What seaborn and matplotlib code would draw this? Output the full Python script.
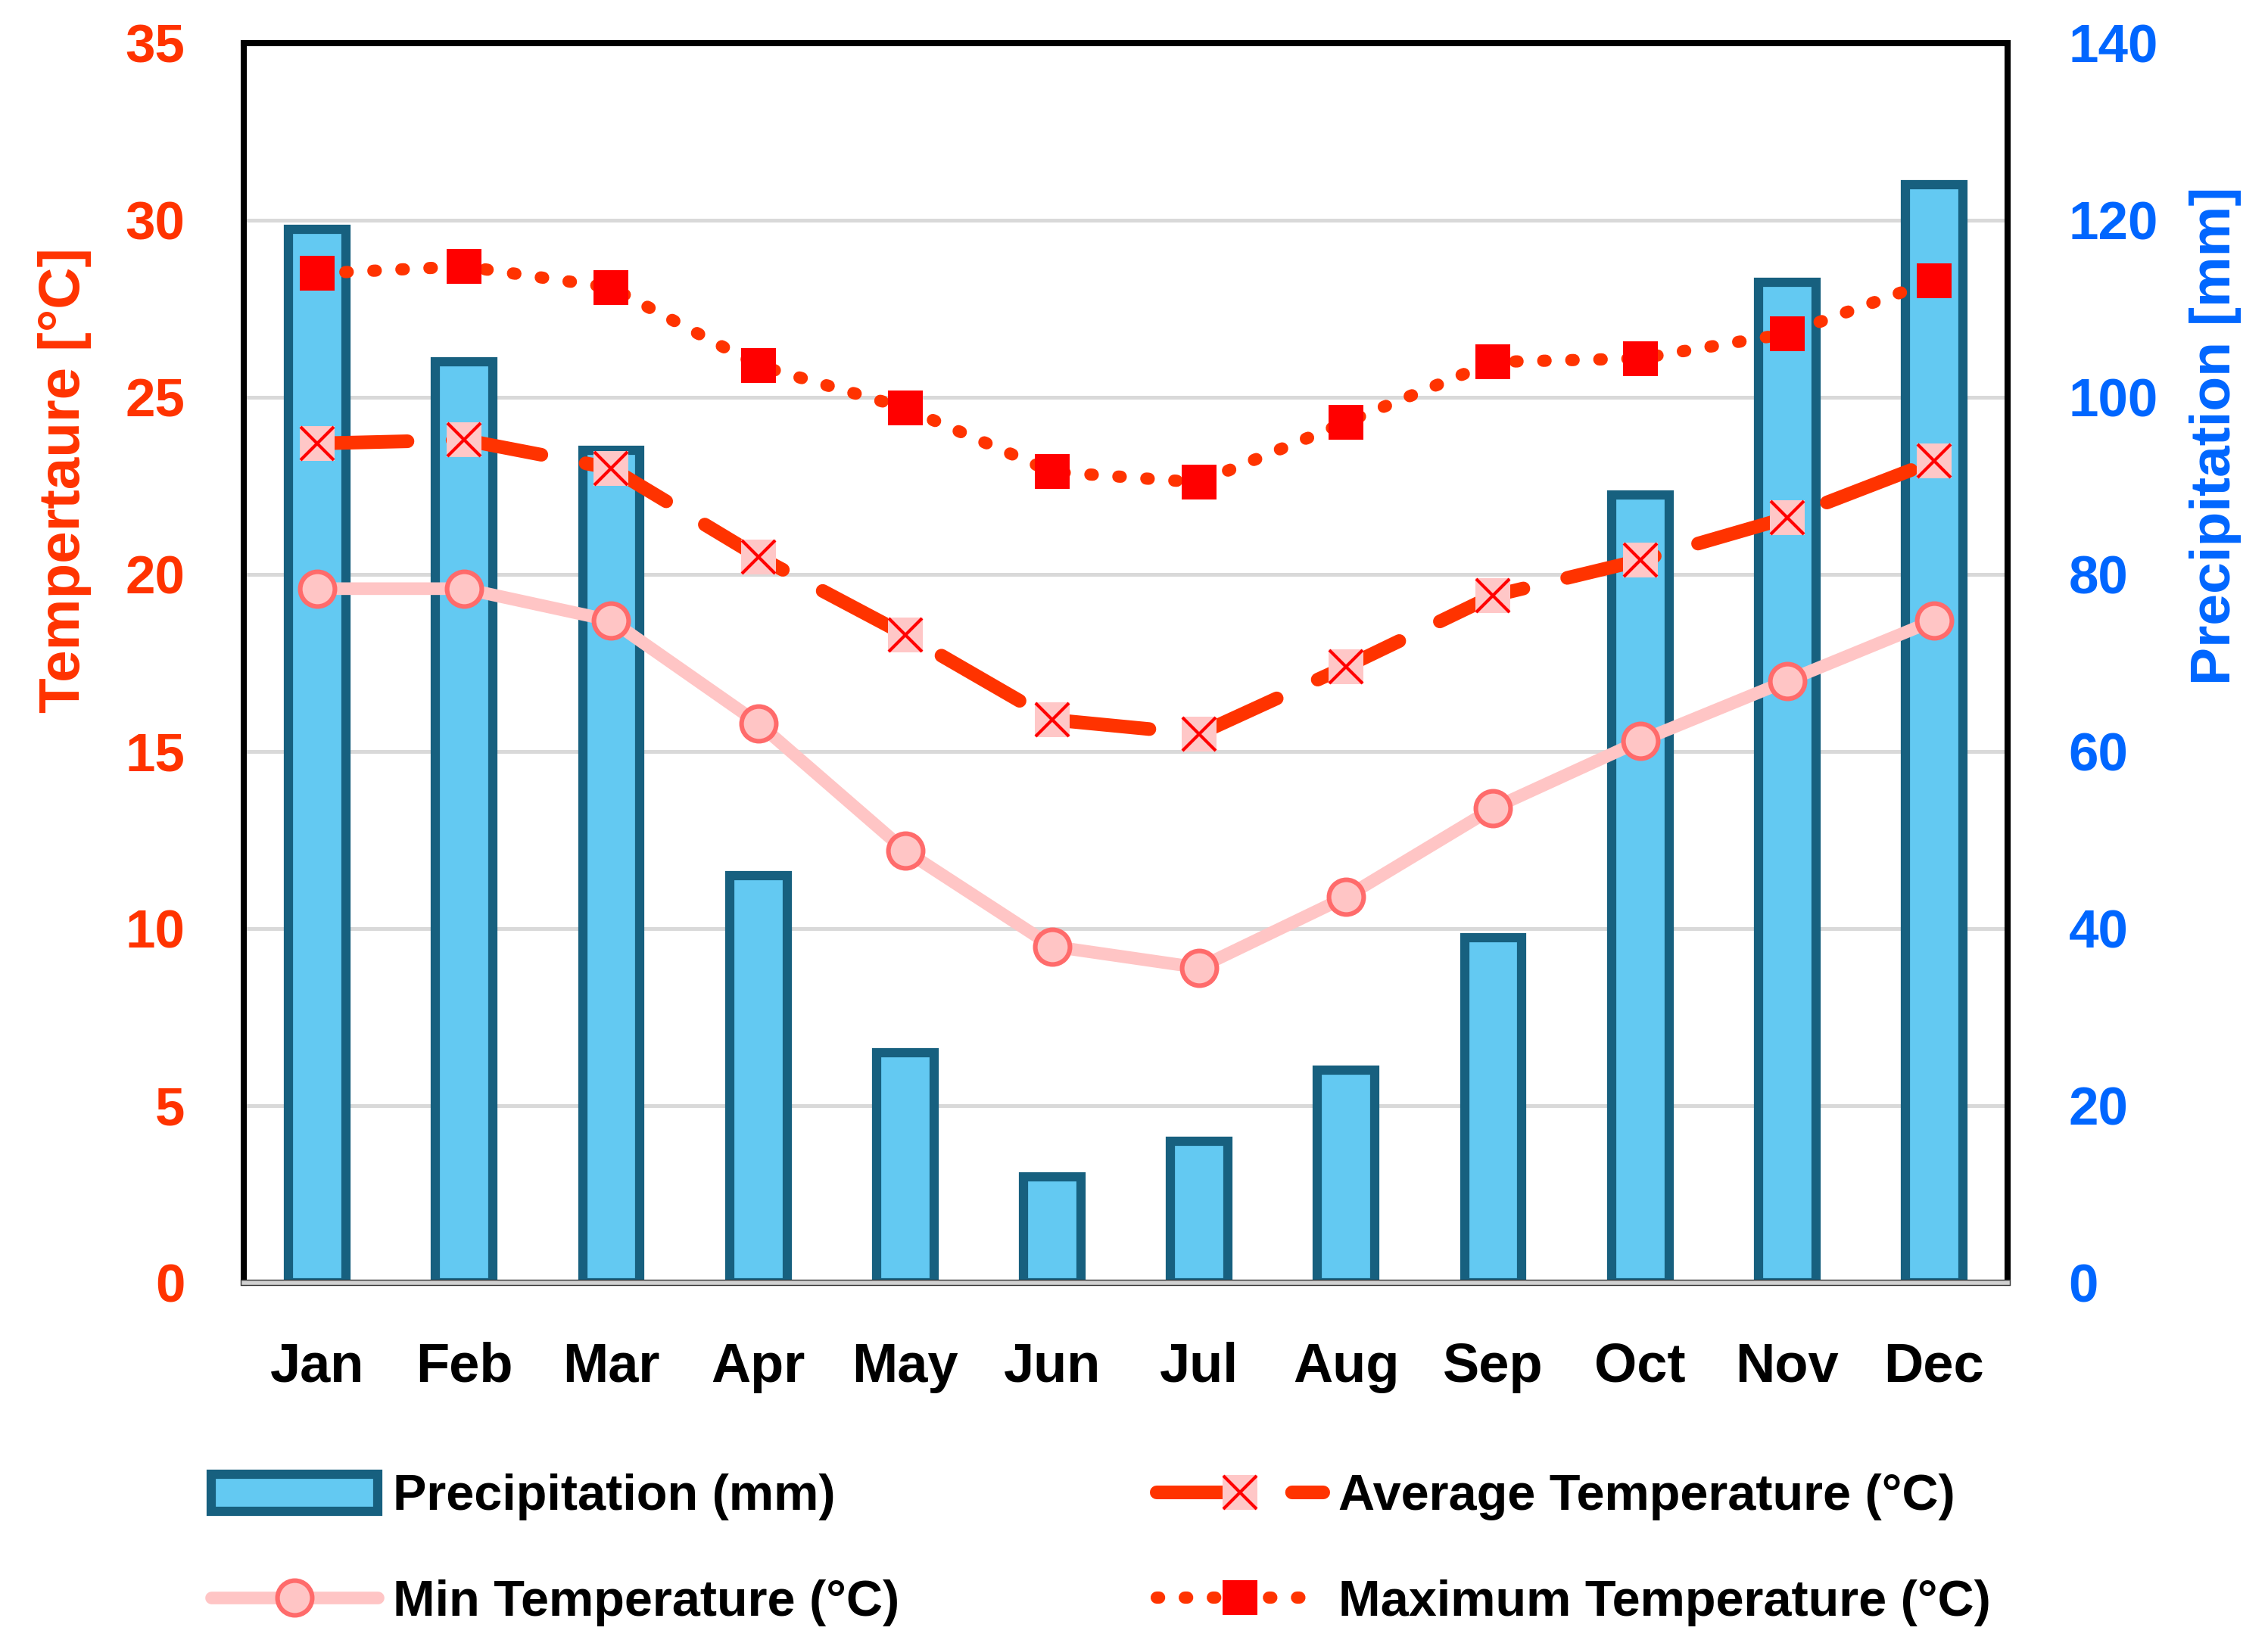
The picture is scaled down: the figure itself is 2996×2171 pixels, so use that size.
import numpy as np
import pandas as pd
import seaborn as sns
import matplotlib.pyplot as plt
import matplotlib.patheffects as pe
from matplotlib.lines import Line2D
from matplotlib.patches import Patch
from matplotlib.legend_handler import HandlerTuple

# values
months = ['Jan', 'Feb', 'Mar', 'Apr', 'May', 'Jun', 'Jul', 'Aug', 'Sep', 'Oct', 'Nov', 'Dec']
precip_mm = [119, 104, 94, 46, 26, 12, 16, 24, 39, 89, 113, 124]
avg_temp = [23.7, 23.8, 23.0, 20.5, 18.3, 15.9, 15.5, 17.4, 19.4, 20.4, 21.6, 23.2]
min_temp = [19.6, 19.6, 18.7, 15.8, 12.2, 9.5, 8.9, 10.9, 13.4, 15.3, 17.0, 18.7]
max_temp = [28.5, 28.7, 28.1, 25.9, 24.7, 22.9, 22.6, 24.3, 26.0, 26.1, 26.8, 28.3]

legend_labels = ['Precipitation (mm)', 'Min Temperature (°C)',
                 'Average Temperature (°C)', 'Maximum Temperature (°C)']

## colours
bar_face = '#63C9F2'
bar_edge = '#17607F'
avg_col = '#FF3300'
max_col = '#FF3300'
max_mark = '#FF0000'
min_line = '#FFC5C5'
min_edge = '#FF6B6B'
pink_sq = '#FFC7C7'
x_col = '#FF0000'

sns.set_theme(style='white')
plt.rcParams['font.family'] = ['Liberation Sans', 'DejaVu Sans']
plt.rcParams['font.weight'] = 'bold'
plt.rcParams['axes.labelweight'] = 'bold'

df = pd.DataFrame({'pos': np.arange(12), 'precip': precip_mm,
                   'avg': avg_temp, 'tmin': min_temp, 'tmax': max_temp})

fig = plt.figure(figsize=(14.98, 10.855), dpi=200)
ax = fig.add_axes([0.1075, 0.2192, 0.7777, 0.7545])
ax2 = ax.twinx()

## bars on the right axis, lines on the left one (kept on top)
ax.set_zorder(ax2.get_zorder() + 1)
ax.patch.set_visible(False)

sns.barplot(data=df, x='pos', y='precip', ax=ax2, color=bar_face, saturation=1,
            width=0.39, edgecolor=bar_edge, linewidth=4.4, zorder=2)

# min temperature
sns.lineplot(data=df, x='pos', y='tmin', ax=ax, color=min_line, linewidth=6,
             marker='o', markersize=16.5, markerfacecolor=min_line,
             markeredgecolor=min_edge, markeredgewidth=2.2, errorbar=None)

# average temperature: dashed line, pink squares with red crosses
sns.lineplot(data=df, x='pos', y='avg', ax=ax, color=avg_col, linewidth=6.5,
             marker='s', markersize=16.5, markerfacecolor=pink_sq,
             markeredgecolor=pink_sq, markeredgewidth=0, errorbar=None)
avg_line = ax.lines[-1]
avg_line.set_dashes((6.6, 3.3))
avg_line.set_dash_capstyle('round')
sns.lineplot(data=df, x='pos', y='avg', ax=ax, color=x_col, linestyle='none',
             marker='x', markersize=16, markeredgecolor=x_col,
             markeredgewidth=1.5, errorbar=None)

# max temperature: round dots
sns.lineplot(data=df, x='pos', y='tmax', ax=ax, color=max_col, linewidth=5.8,
             marker='s', markersize=16.5, markerfacecolor=max_mark,
             markeredgecolor=max_mark, markeredgewidth=0, errorbar=None)
max_line = ax.lines[-1]
max_line.set_dashes((0.2, 2.1))
max_line.set_dash_capstyle('round')

# axes, ticks
ax.set_ylim(0, 35)
ax.set_yticks(range(0, 36, 5))
ax2.set_ylim(0, 140)
ax2.set_yticks(range(0, 141, 20))
ax.set_xlim(-0.5, 11.5)
ax.set_xticks(range(12))
ax.set_xticklabels(months)
ax.set_xlabel('')
ax2.set_xlabel('')

ax.tick_params(axis='y', length=0, pad=28, labelsize=25.5, labelcolor='#FF3300')
ax2.tick_params(axis='y', length=0, pad=29, labelsize=25.5, labelcolor='#0066FF')
ax.tick_params(axis='x', length=0, pad=28, labelsize=26, labelcolor='black')

ax.grid(False)
ax2.grid(False)
ax2.yaxis.grid(True, color='#D9D9D9', linewidth=1.8)
ax2.set_axisbelow(True)

ax.set_ylabel('Tempertaure [°C]', fontsize=27.5, color='#FF3300', va='center',
              fontweight='bold')
ax.yaxis.set_label_coords(-0.1017, 0.6475)
ax2.set_ylabel('Precipitation [mm]', fontsize=27, color='#0066FF', va='center',
               rotation=90, fontweight='bold')
ax2.yaxis.set_label_coords(1.1176, 0.6836)

for s in ax2.spines.values():
    s.set_visible(False)
for s in ['left', 'top', 'right']:
    ax.spines[s].set_color('black')
    ax.spines[s].set_linewidth(2.9)
ax.spines['bottom'].set_color('#D0D0D0')
ax.spines['bottom'].set_linewidth(2.0)
ax.spines['bottom'].set_path_effects([pe.withStroke(linewidth=3.0, foreground='#333333')])

# legend
h_precip = Patch(facecolor=bar_face, edgecolor=bar_edge, linewidth=4.4)
h_min = Line2D([], [], color=min_line, linewidth=6, marker='o', markersize=16.5,
               markerfacecolor=min_line, markeredgecolor=min_edge, markeredgewidth=2.2)
h_avg = (Line2D([], [], color=avg_col, linewidth=6.5, dashes=(6.6, 3.3), dash_capstyle='round'),
         Line2D([], [], linestyle='none', marker='s', markersize=16.5,
                markerfacecolor=pink_sq, markeredgewidth=0),
         Line2D([], [], linestyle='none', marker='x', markersize=16,
                markeredgecolor=x_col, markeredgewidth=1.5))
h_max = Line2D([], [], color=max_col, linewidth=5.8, dashes=(0.2, 2.1), dash_capstyle='round',
               marker='s', markersize=16.5, markerfacecolor=max_mark, markeredgewidth=0)

fig.legend(handles=[h_precip, h_min, h_avg, h_max], labels=legend_labels,
           ncol=2, loc='upper left', bbox_to_anchor=(0.093, 0.103),
           frameon=False, prop={'size': 24, 'weight': 'bold'}, labelcolor='black',
           handlelength=3.3, handleheight=0.75, handletextpad=0.3,
           columnspacing=5.1, labelspacing=1.16, borderpad=0, borderaxespad=0,
           handler_map={tuple: HandlerTuple(ndivide=1, pad=0)})

fig.savefig('out.png', dpi=200)
